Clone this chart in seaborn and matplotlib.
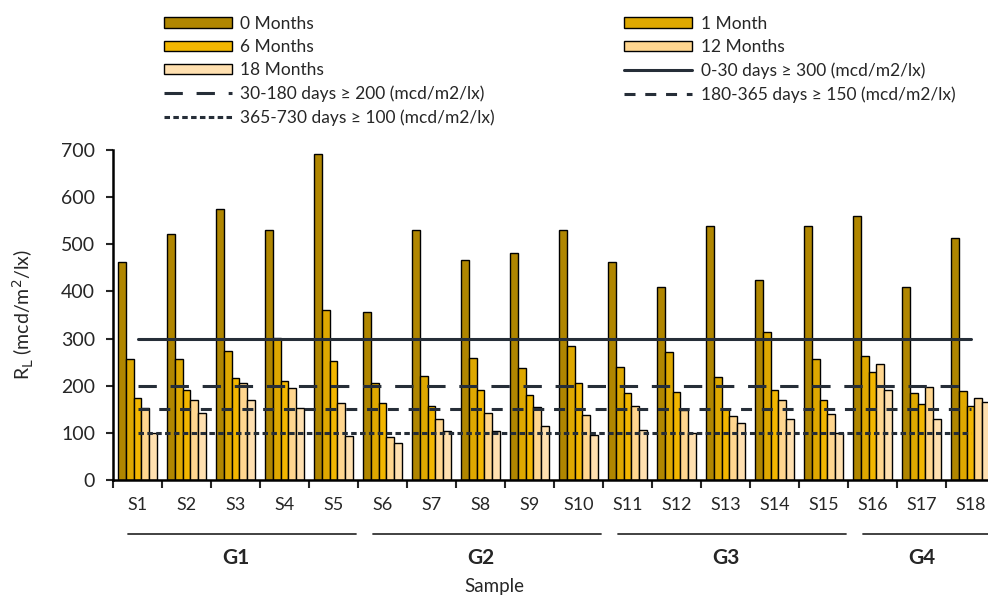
import pandas as pd
import numpy as np
import matplotlib
matplotlib.use('Agg')
import matplotlib.pyplot as plt
import seaborn as sns
from matplotlib.lines import Line2D
from matplotlib.patches import Patch

# data
samples = ['S%d' % i for i in range(1, 19)]
periods = ['0 Months', '1 Month', '6 Months', '12 Months', '18 Months']
m0 = [463, 521, 574, 530, 691, 357, 530, 467, 482, 530, 462, 409, 538, 424, 539, 559, 409, 514]
m1 = [256, 257, 274, 301, 360, 206, 220, 258, 238, 284, 240, 272, 218, 315, 257, 264, 185, 189]
m6 = [174, 191, 216, 211, 252, 164, 158, 192, 180, 205, 184, 187, 150, 190, 169, 230, 161, 157]
m12 = [152, 169, 205, 196, 164, 92, 130, 142, 155, 137, 158, 148, 136, 170, 139, 246, 197, 175]
m18 = [99, 143, 169, 153, 93, 78, 103, 104, 115, 96, 107, 100, 120, 129, 100, 192, 130, 165]
groups = ['G1', 'G2', 'G3', 'G4']
group_members = [(0, 4), (5, 9), (10, 14), (15, 17)]
limit_labels = ['0-30 days \u2265 300 (mcd/m2/lx)', '30-180 days \u2265 200 (mcd/m2/lx)',
                '180-365 days \u2265 150 (mcd/m2/lx)', '365-730 days \u2265 100 (mcd/m2/lx)']
limit_values = [300, 200, 150, 100]

colors = ['#B08600', '#DEA800', '#F2B600', '#FFD68F', '#FFE0B0']
line_color = '#262E38'
line_styles = ['-', (0, (6, 4.5)), (0, (3.6, 3.2)), (0, (1.8, 1.1))]

df = pd.DataFrame({'Sample': samples, '0 Months': m0, '1 Month': m1, '6 Months': m6,
                   '12 Months': m12, '18 Months': m18})
long_df = df.melt(id_vars='Sample', var_name='Period', value_name='RL')

sns.set_style('white')
plt.rcParams['font.family'] = ['Lato', 'DejaVu Sans']

fig = plt.figure(figsize=(9.88, 6.01), dpi=100)
ax = fig.add_axes([0.1144, 0.2013, 0.8927, 0.5491])

sns.barplot(data=long_df, x='Sample', y='RL', hue='Period', hue_order=periods,
            palette=colors, width=0.78, edgecolor='black', linewidth=1,
            saturation=1, ax=ax, legend=False)

# threshold lines from S1 to S18 centres
for val, ls in zip(limit_values, line_styles):
    ax.plot([0, len(samples) - 1], [val, val], color=line_color, lw=2.2, ls=ls, zorder=5)

ax.set_xlim(-0.5, 17.5)
ax.set_ylim(0, 700)
ax.set_yticks(range(0, 701, 100))
ax.tick_params(axis='y', labelsize=14, direction='out', length=5, width=1.5, left=True, pad=8)
ax.set_xticks(np.arange(len(samples)))
ax.set_xticklabels(samples, fontsize=13)
ax.set_xticks(np.arange(-0.5, 18, 1), minor=True)
ax.tick_params(axis='x', which='major', length=0, pad=12)
ax.tick_params(axis='x', which='minor', direction='out', length=6, width=1.5, bottom=True)
for s in ['top', 'right']:
    ax.spines[s].set_visible(False)
for s in ['left', 'bottom']:
    ax.spines[s].set_linewidth(1.8)
    ax.spines[s].set_color('black')

ax.set_ylabel(r'R$_\mathrm{L}$ (mcd/m$^2$/lx)', fontsize=14, labelpad=18)
ax.set_xlabel('')
fig.text(0.5, 0.024, 'Sample', ha='center', va='center', fontsize=13.5)

# group underlines and labels
trans = ax.get_xaxis_transform()
for g, (a, b) in zip(groups, group_members):
    x0, x1 = a - 0.2, b + 0.45
    ax.plot([x0, x1], [-0.165, -0.165], color='#333333', lw=1.3, transform=trans, clip_on=False)
    mid = (a - 0.5 + b + 0.5) / 2
    if g == 'G4':
        mid = 16.0
    ax.text(mid, -0.235, g, transform=trans, ha='center', va='center',
            fontsize=15, fontweight='bold')

# legend, row-wise order in two columns
bar_handles = [Patch(facecolor=c, edgecolor='black', linewidth=1) for c in colors]
line_handles = [Line2D([0], [0], color=line_color, lw=2.2, ls=ls) for ls in line_styles]
handles = [bar_handles[0], bar_handles[2], bar_handles[4], line_handles[1], line_handles[3],
           bar_handles[1], bar_handles[3], line_handles[0], line_handles[2]]
labels = [periods[0], periods[2], periods[4], limit_labels[1], limit_labels[3],
          periods[1], periods[3], limit_labels[0], limit_labels[2]]
fig.legend(handles, labels, ncol=2, frameon=False, loc='upper left',
           bbox_to_anchor=(0.15, 1.0), fontsize=12.5, handlelength=3.9, handleheight=0.55,
           labelspacing=0.42, columnspacing=7.45, handletextpad=0.5, borderaxespad=0.5)

fig.savefig('out.png', dpi=100)
